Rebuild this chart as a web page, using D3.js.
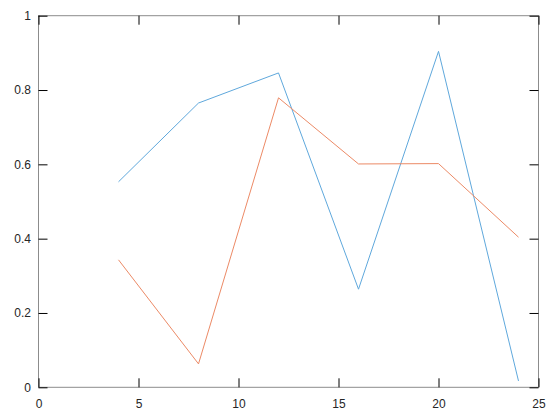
<!DOCTYPE html>
<html>
<head>
<meta charset="utf-8">
<script src="https://cdn.jsdelivr.net/npm/d3@7"></script>
<style>
  html, body { margin: 0; padding: 0; background: #fff; }
  svg { display: block; }
  text { font-family: "Liberation Sans", Arial, sans-serif; font-size: 12px; fill: #262626; }
</style>
</head>
<body>
<div id="chart"></div>
<script>
const xValues = [4, 8, 12, 16, 20, 24];
const series1 = [0.553, 0.765, 0.846, 0.264, 0.904, 0.017];
const series2 = [0.343, 0.063, 0.779, 0.601, 0.602, 0.404];
const xTicks = [0, 5, 10, 15, 20, 25];
const yTicks = [0, 0.2, 0.4, 0.6, 0.8, 1];
const yTickLabels = ["0", "0.2", "0.4", "0.6", "0.8", "1"];

(function () {
const W = 560, H = 420;
const mLeft = 38.5, mRight = 538.5, mTop = 15.7, mBottom = 387.3;

const svg = d3.select("#chart").append("svg").attr("width", W).attr("height", H);

const x = d3.scaleLinear().domain([0, 25]).range([mLeft, mRight]);
const y = d3.scaleLinear().domain([0, 1]).range([mBottom, mTop]);

const tickLen = 9;
const fontFam = "'Liberation Sans', Arial, sans-serif";

// Box
svg.append("rect")
  .attr("x", mLeft).attr("y", mTop)
  .attr("width", mRight - mLeft).attr("height", mBottom - mTop)
  .attr("fill", "none").attr("stroke", "#8c8c8c").attr("stroke-width", 1);

// Bottom axis
const xAxisB = d3.axisBottom(x).tickValues(xTicks).tickFormat(d3.format("d")).tickSizeInner(-tickLen).tickSizeOuter(0);
const gxb = svg.append("g").attr("transform", `translate(0,${mBottom})`).call(xAxisB);
gxb.select(".domain").remove();
gxb.selectAll("line").attr("stroke", "#000");
gxb.selectAll("text").attr("y", 12).attr("dy", "0.71em")
  .attr("fill", "#262626").style("font-size", "12px").style("font-family", fontFam);

// Top axis
const xAxisT = d3.axisTop(x).tickValues(xTicks).tickFormat("").tickSizeInner(-tickLen).tickSizeOuter(0);
const gxt = svg.append("g").attr("transform", `translate(0,${mTop})`).call(xAxisT);
gxt.select(".domain").remove();
gxt.selectAll("line").attr("stroke", "#000");

// Left axis
const yAxisL = d3.axisLeft(y).tickValues(yTicks).tickFormat((d, i) => yTickLabels[i]).tickSizeInner(-tickLen).tickSizeOuter(0);
const gyl = svg.append("g").attr("transform", `translate(${mLeft},0)`).call(yAxisL);
gyl.select(".domain").remove();
gyl.selectAll("line").attr("stroke", "#000");
gyl.selectAll("text").attr("x", -7.5).attr("dy", "0.32em")
  .attr("fill", "#262626").style("font-size", "12px").style("font-family", fontFam);

// Right axis
const yAxisR = d3.axisRight(y).tickValues(yTicks).tickFormat("").tickSizeInner(-tickLen).tickSizeOuter(0);
const gyr = svg.append("g").attr("transform", `translate(${mRight},0)`).call(yAxisR);
gyr.select(".domain").remove();
gyr.selectAll("line").attr("stroke", "#000");

// Lines
const line = d3.line().x((d, i) => x(xValues[i])).y(d => y(d));
svg.append("path").datum(series1).attr("d", line)
  .attr("fill", "none").attr("stroke", "#5fa8dc").attr("stroke-width", 1);
svg.append("path").datum(series2).attr("d", line)
  .attr("fill", "none").attr("stroke", "#ec8a66").attr("stroke-width", 1);
})();
</script>
</body>
</html>
